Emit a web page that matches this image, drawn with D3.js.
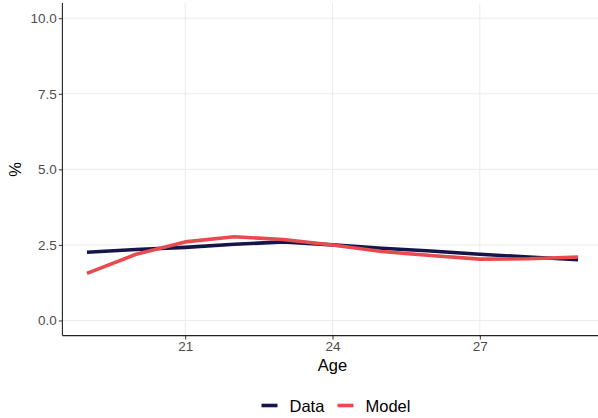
<!DOCTYPE html>
<html>
<head>
<meta charset="utf-8">
<script src="https://cdn.jsdelivr.net/npm/d3@7"></script>
<style>
  html, body { margin: 0; padding: 0; background: #fff; }
  svg { display: block; font-family: "Liberation Sans", Arial, sans-serif; }
</style>
</head>
<body>
<svg id="chart" width="598" height="418"></svg>
<script>
// Share (%) by age: observed data versus model prediction
const ages = [19, 20, 21, 22, 23, 24, 25, 26, 27, 28, 29];
const dataValues  = [2.26, 2.35, 2.42, 2.52, 2.60, 2.50, 2.39, 2.30, 2.19, 2.10, 2.01];
const modelValues = [1.56, 2.19, 2.60, 2.77, 2.68, 2.50, 2.28, 2.15, 2.03, 2.04, 2.10];
const xTicks = [21, 24, 27];
const yTicks = [0, 2.5, 5, 7.5, 10];
const seriesNames = ["Data", "Model"];
const seriesColors = ["#16154a", "#e84b4f"];

const svg = d3.select("#chart");

const x = d3.scaleLinear().domain([18.5, 29.5]).range([62.4, 602.6]);
const y = d3.scaleLinear().domain([-0.5, 10.5]).range([335.6, 3.1]);

const panelLeft = x(18.5), panelRight = 598, panelTop = y(10.5), panelBottom = y(-0.5);

// grid
const grid = svg.append("g");
grid.selectAll(".gy").data(yTicks).join("line")
  .attr("x1", panelLeft).attr("x2", panelRight)
  .attr("y1", d => y(d)).attr("y2", d => y(d))
  .attr("stroke", "#ebebeb").attr("stroke-width", 1);
grid.selectAll(".gx").data(xTicks).join("line")
  .attr("y1", panelTop).attr("y2", panelBottom)
  .attr("x1", d => x(d)).attr("x2", d => x(d))
  .attr("stroke", "#ebebeb").attr("stroke-width", 1);

// lines
const line = d3.line().x((d, i) => x(ages[i])).y(d => y(d));
[dataValues, modelValues].forEach((vals, k) => {
  svg.append("path")
    .datum(vals)
    .attr("d", line)
    .attr("fill", "none")
    .attr("stroke", seriesColors[k])
    .attr("stroke-width", 3.6)
    .attr("stroke-linejoin", "round");
});

// axes
const xAxis = d3.axisBottom(x).tickValues(xTicks).tickFormat(d3.format("d")).tickSize(4).tickPadding(2);
const yAxis = d3.axisLeft(y).tickValues(yTicks).tickFormat(d3.format(".1f")).tickSize(3.6).tickPadding(2);

const gx = svg.append("g").attr("transform", `translate(0,${panelBottom})`).call(xAxis);
const gy = svg.append("g").attr("transform", `translate(${panelLeft},0)`).call(yAxis);

[gx, gy].forEach(g => {
  g.select(".domain").remove();
  g.selectAll(".tick line").attr("stroke", "#333333").attr("stroke-width", 1);
  g.selectAll(".tick text").attr("fill", "#4d4d4d").style("font-size", "13.5px")
    .style("font-family", '"Liberation Sans", Arial, sans-serif');
});

svg.append("line").attr("x1", panelLeft).attr("x2", panelRight)
  .attr("y1", panelBottom).attr("y2", panelBottom)
  .attr("stroke", "#222").attr("stroke-width", 1.1);
svg.append("line").attr("x1", panelLeft).attr("x2", panelLeft)
  .attr("y1", panelTop).attr("y2", panelBottom)
  .attr("stroke", "#222").attr("stroke-width", 1.1);

// axis titles
svg.append("text").attr("x", x(24)).attr("y", 371)
  .attr("text-anchor", "middle").style("font-size", "16.5px").attr("fill", "#000")
  .text("Age");
svg.append("text").attr("transform", `translate(21,${y(5)}) rotate(-90)`)
  .attr("text-anchor", "middle").style("font-size", "16.5px").attr("fill", "#000")
  .text("%");

// legend
const legend = svg.append("g");
const legendX = [261.5, 337.5];
seriesNames.forEach((name, k) => {
  legend.append("line")
    .attr("x1", legendX[k]).attr("x2", legendX[k] + 16)
    .attr("y1", 405.5).attr("y2", 405.5)
    .attr("stroke", seriesColors[k]).attr("stroke-width", 3.6);
  legend.append("text")
    .attr("x", legendX[k] + 28).attr("y", 411.5)
    .style("font-size", "16.5px").attr("fill", "#000")
    .text(name);
});
</script>
</body>
</html>
